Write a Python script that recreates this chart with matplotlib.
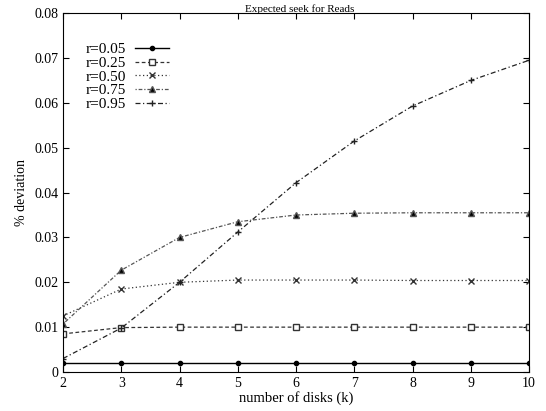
import matplotlib
matplotlib.use("Agg")
import matplotlib.pyplot as plt

plt.rcParams['font.family'] = ['Liberation Serif', 'DejaVu Serif']

disks = [2, 3, 4, 5, 6, 7, 8, 9, 10]
r005 = [0.0020, 0.0020, 0.0020, 0.0020, 0.0020, 0.0020, 0.0020, 0.0020, 0.0020]
r025 = [0.0085, 0.0099, 0.0100, 0.0100, 0.0100, 0.0100, 0.0100, 0.0100, 0.0100]
r050 = [0.0125, 0.0185, 0.0200, 0.0205, 0.0205, 0.0205, 0.0204, 0.0204, 0.0204]
r075 = [0.0107, 0.0227, 0.0300, 0.0335, 0.0350, 0.0354, 0.0355, 0.0355, 0.0355]
r095 = [0.0030, 0.0098, 0.0200, 0.0312, 0.0422, 0.0515, 0.0593, 0.0650, 0.0695]
labels = ["r=0.05", "r=0.25", "r=0.50", "r=0.75", "r=0.95"]
yticks = [0, 0.01, 0.02, 0.03, 0.04, 0.05, 0.06, 0.07, 0.08]
ytick_labels = ["0", "0.01", "0.02", "0.03", "0.04", "0.05", "0.06", "0.07", "0.08"]

fig = plt.figure(figsize=(5.46, 4.11), dpi=100)
ax = fig.add_axes([0.1154, 0.0949, 0.8535, 0.873])

series = [r005, r025, r050, r075, r095]
styles = [
    dict(ls='-', marker='o', ms=3, mfc='black', color='black', lw=1.0),
    dict(ls=(0, (3, 2)), marker='s', ms=4, mfc='white', color='#333333', lw=0.9),
    dict(ls=(0, (1, 2)), marker='x', ms=4, color='#333333', lw=0.9),
    dict(ls=(0, (1, 1.5, 3, 1.5)), marker='^', ms=4, mfc='black', color='#555555', lw=0.9),
    dict(ls=(0, (4, 2, 1, 2)), marker='+', ms=5, color='#222222', lw=0.9),
]
for s, lab, st in zip(series, labels, styles):
    ax.plot(disks, s, label=lab, **st)

ax.set_xlim(2, 10)
ax.set_ylim(0, 0.08)
ax.set_xticks(disks)
ax.set_yticks(yticks)
ax.set_yticklabels(ytick_labels)
ax.tick_params(direction='in', top=True, right=True, labelsize=10, length=4)
ax.set_xlabel("number of disks (k)", fontsize=10.5, labelpad=1)
ax.set_ylabel("% deviation", fontsize=10)
fig.text(0.549, 1 - 9 / 411, "Expected seek for Reads", fontsize=8,
         ha='center', va='center')

leg = ax.legend(loc='upper left', markerfirst=False, frameon=False, fontsize=11,
                handlelength=2.2, labelspacing=0.0, borderaxespad=0.0,
                handletextpad=0.6, bbox_to_anchor=(0.035, 0.935))

fig.savefig("out.png", dpi=100)
